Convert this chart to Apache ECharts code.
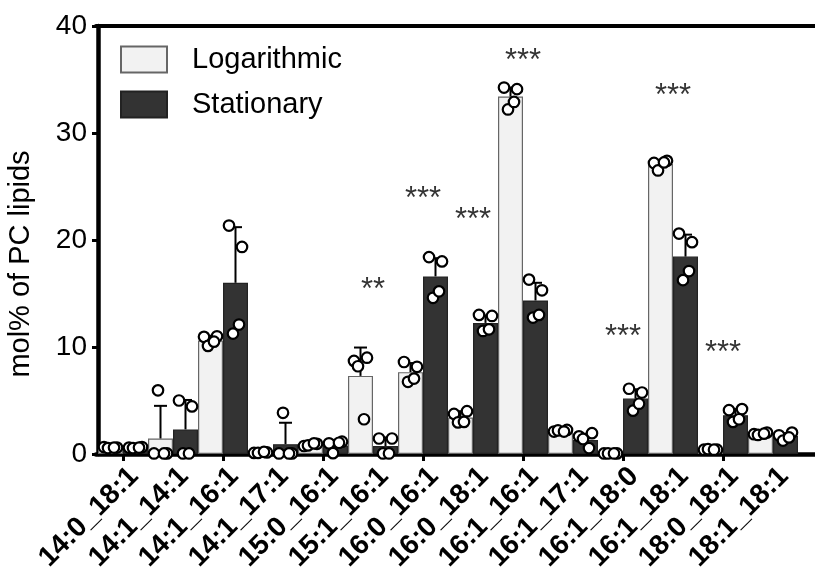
<!DOCTYPE html>
<html>
<head>
<meta charset="utf-8">
<script src="https://cdn.jsdelivr.net/npm/echarts@6/dist/echarts.min.js"></script>
<style>
  html, body { margin: 0; padding: 0; background: #fff; }
  #chart { width: 815px; height: 580px; }
</style>
</head>
<body>
<div id="chart"></div>
<script>
// lipid species on the x axis
var categories = ['14:0_18:1', '14:1_14:1', '14:1_16:1', '14:1_17:1', '15:0_16:1', '15:1_16:1', '16:0_16:1',
  '16:0_18:1', '16:1_16:1', '16:1_17:1', '16:1_18:0', '16:1_18:1', '18:0_18:1', '18:1_18:1'];

// bar heights (mean) and top of the SD whisker
var logMean = [0.6, 1.45, 10.6, 0.12, 0.8, 7.3, 7.65, 3.4, 33.4, 2.15, 0.05, 27.1, 0.38, 1.9];
var logUpper = [0.68, 4.5, 11.05, 0.18, 0.95, 9.95, 8.5, 4.0, 34.25, 2.25, 0.05, 27.3, 0.45, 2.0];
var statMean = [0.6, 2.3, 16.0, 0.92, 0.8, 0.75, 16.6, 12.25, 14.35, 1.3, 5.18, 18.45, 3.63, 1.68];
var statUpper = [0.65, 5.05, 21.2, 2.92, 1.3, 1.55, 18.3, 12.95, 16.0, 1.9, 6.05, 20.5, 4.2, 1.95];

// individual replicates
var logPoints = [
  [0.65, 0.6, 0.55, 0.6], [0.05, 0.05, 5.95, 0.05], [10.95, 11.0, 10.1, 10.5], [0.1, 0.15, 0.1, 0.2],
  [0.75, 0.95, 0.8, 1.0], [8.7, 9.0, 8.2, 3.25], [8.6, 8.15, 6.75, 7.05], [3.75, 4.0, 2.95, 3.0],
  [34.25, 34.1, 32.2, 32.9], [2.1, 2.25, 2.2, 2.1], [0.05, 0.05, 0.05, 0.05], [27.2, 27.4, 26.5, 27.25],
  [0.4, 0.4, 0.45, 0.4], [1.85, 2.0, 1.78, 1.9]
];
var statPoints = [
  [0.6, 0.65, 0.55, 0.6], [5.0, 4.45, 0.05, 0.05], [21.35, 19.35, 11.25, 12.1], [0.05, 0.05, 3.85, 0.05],
  [1.0, 1.15, 0.08, 1.05], [1.45, 1.45, 0.05, 0.05], [18.4, 18.0, 14.6, 15.2], [13.0, 12.9, 11.5, 11.65],
  [16.3, 15.3, 12.75, 13.0], [1.65, 1.95, 1.4, 0.55], [6.1, 5.75, 4.05, 4.7], [20.6, 19.8, 16.25, 17.1],
  [4.1, 4.2, 3.0, 3.25], [1.75, 2.0, 1.25, 1.55]
];

// significance marks
var starCats = [5, 6, 7, 8, 10, 11, 12];
var starValues = [16.0, 24.5, 22.6, 37.4, 11.6, 34.2, 10.1];
var starText = ['**', '***', '***', '***', '***', '***', '***'];

var FONT = '"Liberation Sans", Arial, sans-serif';
var JIT = [-0.13, 0.13, -0.05, 0.07];

function errData(mean, upper, shift) {
  var out = [];
  for (var i = 0; i < mean.length; i++) out.push([i + shift, mean[i], upper[i]]);
  return out;
}
function ptData(points, shift) {
  var out = [];
  for (var i = 0; i < points.length; i++) {
    for (var k = 0; k < points[i].length; k++) out.push([i + shift + JIT[k], points[i][k]]);
  }
  return out;
}
var starData = [];
for (var s = 0; s < starCats.length; s++) starData.push([categories[starCats[s]], starValues[s], starText[s]]);

function renderErr(params, api) {
  var base = api.coord([api.value(0), api.value(1)]);
  var top = api.coord([api.value(0), api.value(2)]);
  var st = { stroke: '#000', lineWidth: 2 };
  return {
    type: 'group',
    children: [
      { type: 'line', shape: { x1: base[0], y1: base[1], x2: top[0], y2: top[1] }, style: st },
      { type: 'line', shape: { x1: top[0] - 6.5, y1: top[1], x2: top[0] + 6.5, y2: top[1] }, style: st }
    ]
  };
}

var chart = echarts.init(document.getElementById('chart'));
var option = {
  backgroundColor: '#fff',
  animation: false,
  grid: [
    { left: 98, right: 17, top: 26, bottom: 126 },
    { left: 96, right: 0, top: 26, bottom: 126 },
    // label-only grid, nudged right so the rotated names end past the ticks
    { left: 109, right: 6, top: 26, bottom: 126 }
  ],
  legend: {
    data: ['Logarithmic', 'Stationary'],
    orient: 'vertical',
    left: 115,
    top: 40,
    itemWidth: 46,
    itemHeight: 26,
    itemGap: 16,
    icon: 'rect',
    textStyle: { fontFamily: FONT, fontSize: 29, color: '#000', padding: [0, 0, 0, 20] }
  },
  graphic: [{
    type: 'text',
    rotation: Math.PI / 2,
    x: 21, y: 264,
    style: { text: 'mol% of PC lipids', font: '29px ' + FONT, fill: '#000', textAlign: 'center', textVerticalAlign: 'middle' }
  }],
  xAxis: [
    {
      type: 'category', gridIndex: 0, data: categories,
      axisLine: { show: false },
      axisTick: { show: true, alignWithLabel: true, length: 7, lineStyle: { color: '#000', width: 3 } },
      axisLabel: { show: false }
    },
    { type: 'value', gridIndex: 0, min: -0.5, max: 13.5, show: false },
    {
      type: 'value', gridIndex: 1, min: 0, max: 1, position: 'bottom',
      axisLine: { show: true, lineStyle: { color: '#000', width: 4.5 } },
      axisTick: { show: false }, axisLabel: { show: false }, splitLine: { show: false }
    },
    {
      type: 'value', gridIndex: 1, min: 0, max: 1, position: 'top',
      axisLine: { show: true, lineStyle: { color: '#000', width: 4 } },
      axisTick: { show: false }, axisLabel: { show: false }, splitLine: { show: false }
    },
    {
      type: 'category', gridIndex: 2, data: categories,
      axisLine: { show: false }, axisTick: { show: false },
      axisLabel: { rotate: 45, fontFamily: FONT, fontSize: 28, fontWeight: 'bold', color: '#000', margin: 18, interval: 0 }
    }
  ],
  yAxis: [
    {
      type: 'value', gridIndex: 0, min: 0, max: 40, interval: 10,
      axisLine: { show: true, onZero: false, lineStyle: { color: '#000', width: 4.5 } },
      axisTick: { show: true, inside: false, length: 6, lineStyle: { color: '#000', width: 3 } },
      axisLabel: { fontFamily: FONT, fontSize: 28, color: '#000', margin: 11 },
      splitLine: { show: false }
    },
    { type: 'value', gridIndex: 1, min: 0, max: 40, show: false },
    { type: 'value', gridIndex: 2, min: 0, max: 40, show: false }
  ],
  series: [
    {
      name: 'Logarithmic', type: 'bar', xAxisIndex: 0, yAxisIndex: 0, data: logMean,
      barGap: '0%', barCategoryGap: '0%',
      itemStyle: { color: '#f2f2f2', borderColor: '#666', borderWidth: 1.2 }
    },
    {
      name: 'Stationary', type: 'bar', xAxisIndex: 0, yAxisIndex: 0, data: statMean,
      barGap: '0%', barCategoryGap: '0%',
      itemStyle: { color: '#333333', borderColor: '#222', borderWidth: 1.2 }
    },
    { name: 'logErr', type: 'custom', xAxisIndex: 1, yAxisIndex: 0, data: errData(logMean, logUpper, -0.25), renderItem: renderErr, z: 3 },
    { name: 'statErr', type: 'custom', xAxisIndex: 1, yAxisIndex: 0, data: errData(statMean, statUpper, 0.25), renderItem: renderErr, z: 3 },
    {
      name: 'logPts', type: 'scatter', xAxisIndex: 1, yAxisIndex: 0, data: ptData(logPoints, -0.25),
      symbol: 'circle', symbolSize: 10.5, z: 4,
      itemStyle: { color: '#fff', borderColor: '#000', borderWidth: 2.2, opacity: 1 }
    },
    {
      name: 'statPts', type: 'scatter', xAxisIndex: 1, yAxisIndex: 0, data: ptData(statPoints, 0.25),
      symbol: 'circle', symbolSize: 10.5, z: 4,
      itemStyle: { color: '#fff', borderColor: '#000', borderWidth: 2.2, opacity: 1 }
    },
    {
      name: 'stars', type: 'scatter', xAxisIndex: 0, yAxisIndex: 0, data: starData,
      symbolSize: 0, z: 5,
      label: {
        show: true, position: 'inside', offset: [0, 8],
        formatter: function (p) { return p.data[2]; },
        fontFamily: FONT, fontSize: 31, color: '#000'
      }
    }
  ]
};
chart.setOption(option);
</script>
</body>
</html>
